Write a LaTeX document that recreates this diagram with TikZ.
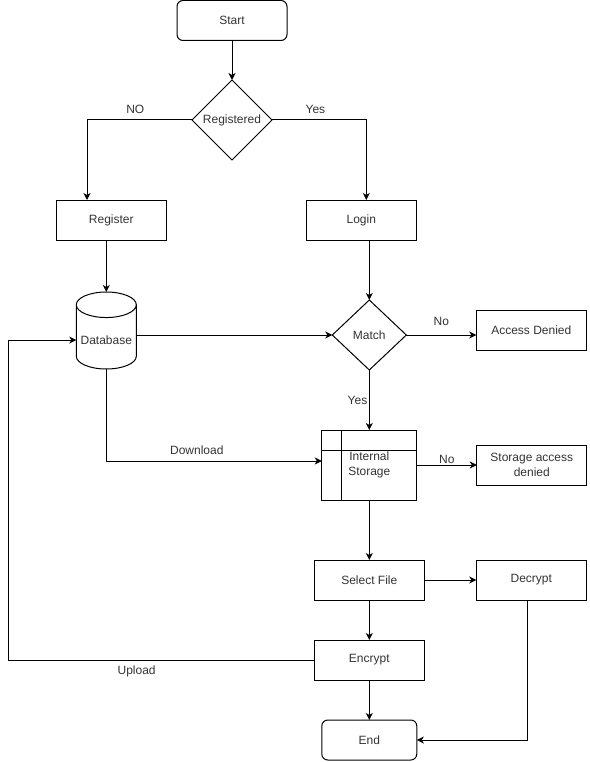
\documentclass[tikz,border=0pt]{standalone}
\usepackage{fontspec}
\setmainfont{Liberation Sans}
\usetikzlibrary{shapes.geometric, arrows.meta, positioning}

\begin{document}
\begin{tikzpicture}[
    x=1pt, y=-1pt,
    >={Stealth[length=7pt, width=7pt, inset=2pt]},
    line width=1pt,
    font=\fontsize{12}{14.3}\selectfont,
    every node/.style = {text=black!80, outer sep=0pt},
    block/.style    = {draw, rectangle, minimum height=40pt, minimum width=110pt, align=center},
    term/.style     = {block, rounded corners=6pt},
    decision/.style = {draw, diamond, inner sep=0pt, minimum width=80pt, minimum height=80pt},
    store/.style    = {draw, cylinder, shape border rotate=90, aspect=0.44, minimum height=77pt, minimum width=60pt}
    ]
    \useasboundingbox (0,0) rectangle (589,762);

    \node [term] (start) at (232,20.5) {Start};
    \node [decision, below=39.5pt of start] (registered) {Registered};
    \node [block, below=40pt of registered, xshift=-120.7pt] (register) {Register};
    \node [block, below=40pt of registered, xshift=129.3pt]  (login)    {Login};
    \node [store, below=52pt of register, xshift=-5pt]       (database) {Database};
    \node [decision, minimum width=74pt, minimum height=70pt, below=60pt of login, xshift=8pt] (match) {Match};
    \node [block, right=70pt of match, yshift=5pt] (denied) {Access Denied};
    \node [block, minimum width=95pt, minimum height=70pt, below=60pt of match] (storage) {Internal\\Storage};
    \node [block, right=60pt of storage] (sdenied) {Storage access\\denied};
    \node [block, below=60pt of storage]  (select)  {Select File};
    \node [block, right=52pt of select]   (decrypt) {Decrypt};
    \node [block, below=40pt of select]   (encrypt) {Encrypt};
    \node [term, minimum width=95pt, below=40pt of encrypt] (end) {End};
    \coordinate (uturn) at (8,0);

    % internal storage marks
    \draw ([xshift=20pt]storage.north west) -- ([xshift=20pt]storage.south west);
    \draw ([yshift=-20pt]storage.north west) -- ([yshift=-20pt]storage.north east);

    %% -- registration / login
    \draw [->] (start) -- (registered);
    \draw [->] (registered.west) -| node[pos=0.27, above, yshift=3pt] {NO} ([xshift=-24.3pt]register.north);
    \draw [->] (registered.east) -| node[pos=0.23, above, yshift=3pt] {Yes} ([xshift=5pt]login.north);
    \draw [->] (register.south -| database.north) -- (database.north);
    \draw [->] (login.south -| match.north) -- (match.north);
    \draw [->] (database.east |- match) -- (match.west);
    \draw [->] (match.east) -- node[above, yshift=6pt] {No} (match.east -| denied.west);

    %% -- storage
    \draw [->] (match) -- node[left, inner sep=2pt] {Yes} (storage);
    \draw [->] (database.south) |- node[pos=0.71, above, yshift=3pt] {Download} ([yshift=4pt]storage.west);
    \draw [->] (storage.east) -- node[above, inner sep=1pt] {No} (sdenied);
    \draw [->] (storage) -- (select);

    %% -- files
    \draw [->] (select) -- (decrypt);
    \draw [->] (select) -- (encrypt);
    \draw [->] (encrypt) -- (end);
    \draw [->] ([xshift=-4pt]decrypt.south) |- (end.east);
    \draw [->] (encrypt.west) -- node[pos=0.58, below, yshift=-2pt] {Upload} (encrypt.west -| uturn)
        |- (database.center -| database.west);
\end{tikzpicture}
\end{document}
